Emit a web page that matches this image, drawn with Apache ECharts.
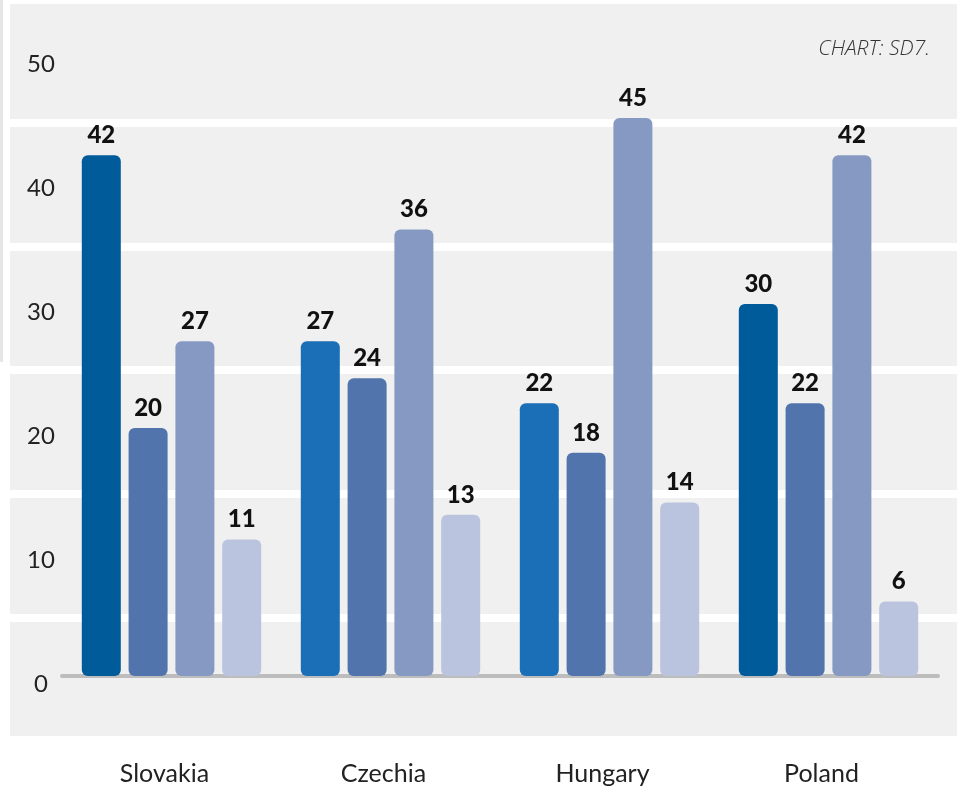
<!DOCTYPE html>
<html>
<head>
<meta charset="utf-8">
<script src="https://cdn.jsdelivr.net/npm/echarts@6/dist/echarts.min.js"></script>
<style>
  html, body { margin: 0; padding: 0; background: #ffffff; }
  #chart { width: 961px; height: 791px; }
</style>
</head>
<body>
<div id="chart"></div>
<script>
// ---- data ----
const categories = ['Slovakia', 'Czechia', 'Hungary', 'Poland'];
const series1 = [42, 27, 22, 30];
const series2 = [20, 24, 18, 22];
const series3 = [27, 36, 45, 42];
const series4 = [11, 13, 14, 6];
const tickLabels = [0, 10, 20, 30, 40, 50];
const bandLines = [4.7, 14.7, 24.7, 34.6, 44.6];
const yMin = -4.84;
const yMax = 54.19;

// ---- styles ----
const series1Colors = ['#005b9a', '#1a6fb7', '#1a6fb7', '#005b9a'];
const seriesColors = ['#005b9a', '#5074ab', '#8699c3', '#bbc4de'];
const FONT = 'Lato';

const chart = echarts.init(document.getElementById('chart'), null, { renderer: 'canvas' });

function barSeries(values, idx, perItemColors) {
  return {
    type: 'bar',
    xAxisIndex: 1,
    yAxisIndex: 1,
    barWidth: 39,
    barGap: '20%',
    data: values.map((v, i) => perItemColors
      ? { value: v, itemStyle: { color: perItemColors[i] } }
      : v),
    itemStyle: { color: seriesColors[idx], borderRadius: 6 },
    label: {
      show: true,
      position: 'top',
      distance: 8,
      fontFamily: FONT,
      fontWeight: 900,
      fontSize: 24,
      color: '#111'
    },
    z: 3
  };
}

const option = {
  animation: false,
  textStyle: { fontFamily: FONT },
  grid: [
    { left: 10, right: 4, top: 4, bottom: 55, show: true, backgroundColor: '#f0f0f0', borderWidth: 0, containLabel: false, outerBoundsMode: 'none' },
    { left: 62, right: 23, top: 4, bottom: 55, containLabel: false, outerBoundsMode: 'none' }
  ],
  xAxis: [
    { type: 'value', gridIndex: 0, min: 0, max: 1, show: false },
    {
      type: 'category', gridIndex: 1, data: categories,
      axisLine: { show: true, onZero: true, lineStyle: { color: '#bdbdbd', width: 4, cap: 'round' } },
      axisTick: { show: false },
      axisLabel: {
        fontFamily: FONT, fontSize: 25, color: '#222', margin: 25,
        padding: [0, 14, 0, 0]
      },
      z: 2
    }
  ],
  yAxis: [
    {
      type: 'value', gridIndex: 0, min: yMin, max: yMax,
      axisLine: { show: false },
      axisTick: { show: false, customValues: bandLines },
      splitLine: { show: true, lineStyle: { color: '#ffffff', width: 8 } },
      axisLabel: {
        customValues: tickLabels,
        inside: true, align: 'center', margin: 31,
        verticalAlign: 'top', lineHeight: 16,
        fontFamily: FONT, fontWeight: 400, fontSize: 24, color: '#222'
      }
    },
    { type: 'value', gridIndex: 1, min: yMin, max: yMax, show: false }
  ],
  graphic: [
    { type: 'rect', left: 0, top: 0, shape: { width: 3, height: 362 }, style: { fill: '#e6e6e6' }, z: -1 },
    {
      type: 'text', right: 31, top: 39,
      style: { text: 'CHART: SD7.', font: 'italic 300 21px "Open Sans"', fill: '#333' }
    }
  ],
  series: [
    barSeries(series1, 0, series1Colors),
    barSeries(series2, 1),
    barSeries(series3, 2),
    barSeries(series4, 3)
  ]
};

chart.setOption(option);
</script>
</body>
</html>
